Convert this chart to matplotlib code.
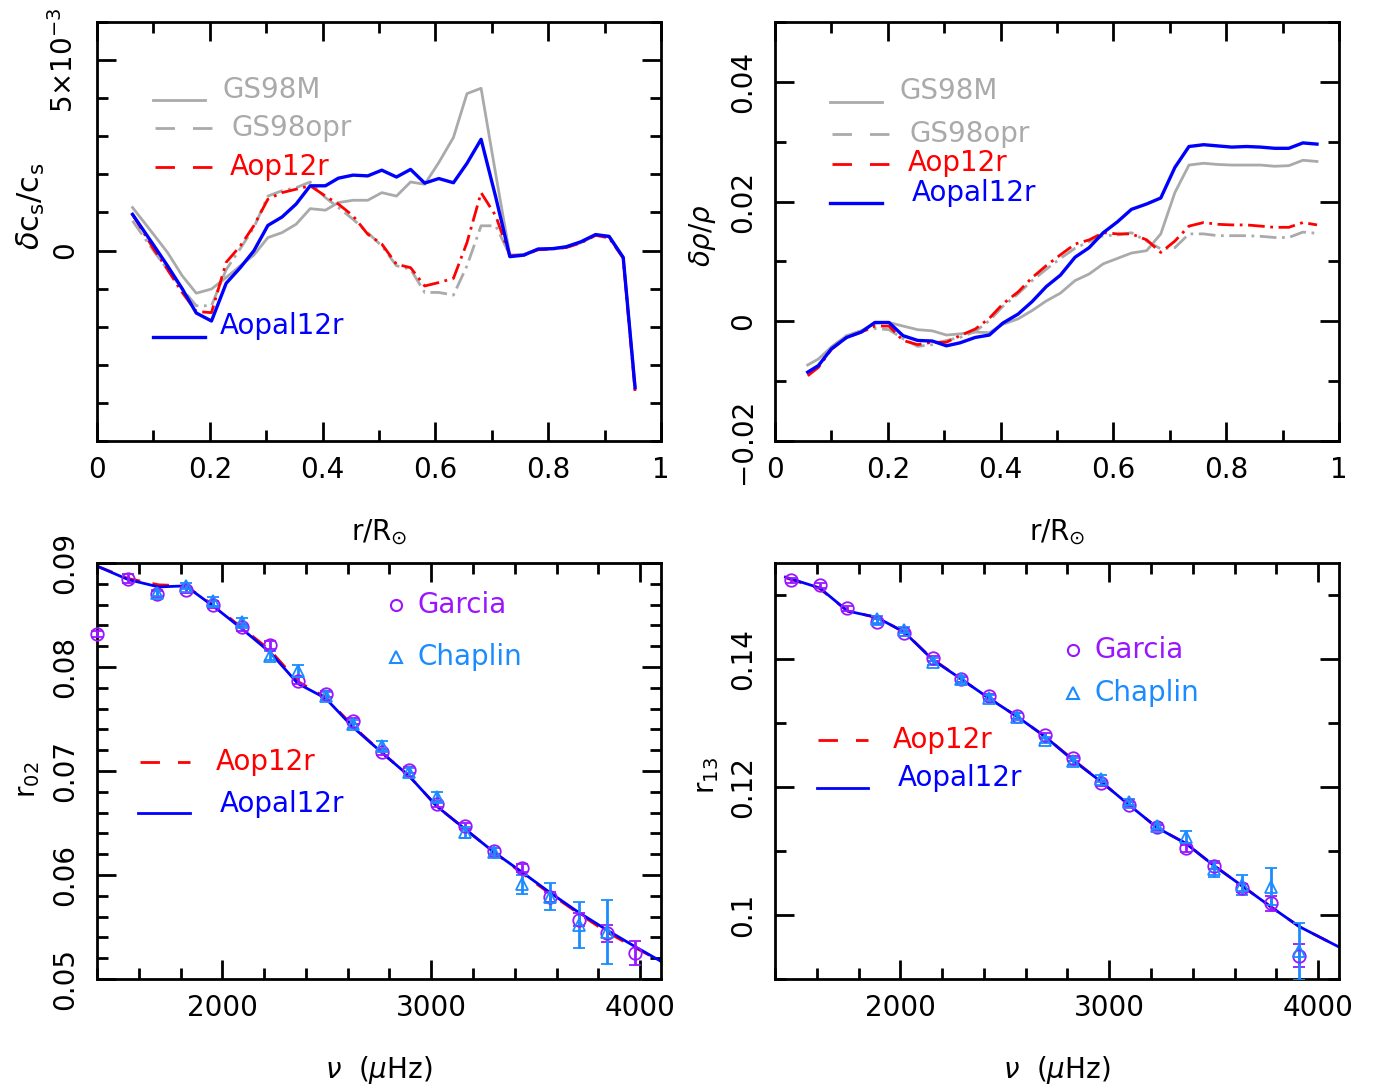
import numpy as np
import matplotlib
matplotlib.use("Agg")
import matplotlib.pyplot as plt
from matplotlib.ticker import MultipleLocator

# ---------------- data ----------------
# panel 1: sound-speed differences (units of 1e-3)
r_cs = [0.063, 0.100, 0.125, 0.151, 0.176, 0.203, 0.229, 0.254, 0.278, 0.303, 0.328, 0.353,
        0.378, 0.405, 0.428, 0.454, 0.480, 0.505, 0.531, 0.556, 0.581, 0.606, 0.632, 0.656,
        0.681, 0.707, 0.732, 0.757, 0.782, 0.808, 0.832, 0.858, 0.884, 0.908, 0.933, 0.954]
cs_gs98m = [1.13, 0.43, -0.05, -0.66, -1.12, -1.01, -0.71, -0.40, -0.12, 0.34, 0.47, 0.69,
            1.10, 1.06, 1.26, 1.32, 1.32, 1.52, 1.43, 1.80, 1.74, 2.31, 2.97, 4.12,
            4.26, 2.00, -0.12, -0.10, 0.03, 0.05, 0.08, 0.21, 0.40, 0.38, -0.18, -3.55]
cs_gs98opr = [0.78, 0.00, -0.50, -1.00, -1.45, -1.45, -0.50, 0.05, 0.60, 1.43, 1.57, 1.65,
              1.80, 1.39, 1.13, 0.82, 0.47, 0.12, -0.40, -0.49, -1.10, -1.10, -1.17, -0.40,
              0.65, 0.65, -0.12, -0.10, 0.03, 0.05, 0.08, 0.21, 0.40, 0.36, -0.20, -3.60]
cs_aop12r = [0.95, 0.05, -0.50, -1.10, -1.60, -1.63, -0.31, 0.12, 0.65, 1.35, 1.52, 1.61,
             1.70, 1.43, 1.22, 0.91, 0.43, 0.17, -0.36, -0.45, -0.93, -0.84, -0.73, 0.21,
             1.52, 0.91, -0.14, -0.12, 0.02, 0.04, 0.08, 0.20, 0.40, 0.33, -0.20, -3.70]
cs_aopal12r = [0.95, 0.15, -0.40, -1.00, -1.64, -1.85, -0.86, -0.45, -0.01, 0.66, 0.88, 1.22,
               1.70, 1.70, 1.90, 1.98, 1.96, 2.11, 1.93, 2.13, 1.77, 1.89, 1.78, 2.29,
               2.92, 1.40, -0.16, -0.12, 0.04, 0.05, 0.10, 0.23, 0.42, 0.37, -0.18, -3.60]

# panel 2: density differences
r_rho = [0.058, 0.077, 0.100, 0.127, 0.153, 0.177, 0.202, 0.227, 0.253, 0.279, 0.304, 0.328,
         0.355, 0.380, 0.404, 0.431, 0.456, 0.481, 0.506, 0.532, 0.557, 0.582, 0.607, 0.632,
         0.659, 0.684, 0.709, 0.734, 0.760, 0.785, 0.810, 0.836, 0.861, 0.886, 0.911, 0.936, 0.961]
rho_gs98m = [-0.0073, -0.0063, -0.0043, -0.0024, -0.0016, -0.0003, -0.0002, -0.0008, -0.0014,
             -0.0016, -0.0023, -0.0021, -0.0018, -0.0019, -0.0005, 0.0004, 0.0018, 0.0034,
             0.0047, 0.0068, 0.0079, 0.0096, 0.0105, 0.0114, 0.0118, 0.0146, 0.0215, 0.0261,
             0.0264, 0.0262, 0.0261, 0.0261, 0.0261, 0.0259, 0.0260, 0.0269, 0.0267]
rho_gs98opr = [-0.0088, -0.0074, -0.0043, -0.0024, -0.0016, -0.0012, -0.0014, -0.0029, -0.0042,
               -0.0039, -0.0032, -0.0027, -0.0017, 0.0001, 0.0025, 0.0046, 0.0068, 0.0087,
               0.0105, 0.0122, 0.0133, 0.0143, 0.0144, 0.0148, 0.0134, 0.0121, 0.0123, 0.0146,
               0.0146, 0.0143, 0.0143, 0.0143, 0.0142, 0.0140, 0.0140, 0.0149, 0.0147]
rho_aop12r = [-0.0091, -0.0077, -0.0047, -0.0027, -0.0018, -0.0008, -0.0008, -0.0032, -0.0039,
              -0.0035, -0.0035, -0.0024, -0.0013, 0.0005, 0.0029, 0.0049, 0.0073, 0.0093,
              0.0111, 0.0129, 0.0136, 0.0148, 0.0146, 0.0146, 0.0136, 0.0115, 0.0134, 0.0159,
              0.0165, 0.0162, 0.0161, 0.0161, 0.0159, 0.0157, 0.0157, 0.0165, 0.0161]
rho_aopal12r = [-0.0085, -0.0074, -0.0046, -0.0027, -0.0018, -0.0002, -0.0002, -0.0024, -0.0032,
                -0.0033, -0.0041, -0.0036, -0.0027, -0.0023, -0.0003, 0.0012, 0.0033, 0.0058,
                0.0077, 0.0107, 0.0123, 0.0148, 0.0166, 0.0187, 0.0196, 0.0206, 0.0257, 0.0292,
                0.0295, 0.0293, 0.0291, 0.0292, 0.0291, 0.0289, 0.0289, 0.0298, 0.0296]

# panel 3: r02
nu02_garcia = [1400, 1550, 1686, 1824, 1956, 2092, 2229, 2362, 2494, 2626, 2762, 2895,
               3027, 3163, 3300, 3433, 3569, 3706, 3842, 3977]
r02_garcia = [0.0832, 0.0885, 0.0870, 0.0874, 0.0860, 0.0838, 0.0821, 0.0787, 0.0774, 0.0748,
              0.0718, 0.0701, 0.0668, 0.0647, 0.0623, 0.0607, 0.0579, 0.0557, 0.0544, 0.0525]
r02_garcia_err = [0.0003, 0.0004, 0.0003, 0.0003, 0.0003, 0.0003, 0.0004, 0.0003, 0.0003, 0.0003,
                  0.0003, 0.0003, 0.0003, 0.0003, 0.0003, 0.0004, 0.0005, 0.0006, 0.0008, 0.0012]
nu02_chaplin = [1686, 1824, 1956, 2092, 2229, 2362, 2494, 2626, 2762, 2895, 3027, 3163,
                3300, 3433, 3569, 3706, 3842]
r02_chaplin = [0.0871, 0.0878, 0.0863, 0.0843, 0.0811, 0.0796, 0.0772, 0.0745, 0.0724, 0.0699,
               0.0675, 0.0641, 0.0622, 0.0591, 0.0579, 0.0552, 0.0545]
r02_chaplin_err = [0.0003, 0.0003, 0.0004, 0.0004, 0.0004, 0.0006, 0.0004, 0.0004, 0.0005, 0.0004,
                   0.0005, 0.0005, 0.0004, 0.0009, 0.0013, 0.0022, 0.0031]
nu02_model = [1400, 1550, 1695, 1824, 1960, 2092, 2229, 2362, 2494, 2626, 2762, 2895,
              3027, 3163, 3300, 3433, 3569, 3706, 3842, 3977, 4100]
r02_aop12r = [0.0897, 0.0885, 0.0879, 0.0878, 0.0859, 0.0838, 0.0816, 0.0786, 0.0771, 0.0743,
              0.0718, 0.0695, 0.0666, 0.0644, 0.0622, 0.0602, 0.0582, 0.0563, 0.0545, 0.0530, 0.0517]
r02_aopal12r = [0.0897, 0.0884, 0.0877, 0.0878, 0.0858, 0.0837, 0.0814, 0.0784, 0.0770, 0.0742,
                0.0718, 0.0695, 0.0666, 0.0644, 0.0622, 0.0603, 0.0583, 0.0564, 0.0547, 0.0531, 0.0517]

# panel 4: r13
nu13_garcia = [1476, 1614, 1747, 1887, 2019, 2154, 2290, 2423, 2559, 2692, 2826, 2962,
               3095, 3231, 3366, 3502, 3638, 3773, 3909]
r13_garcia = [0.1523, 0.1515, 0.1479, 0.1458, 0.1440, 0.1401, 0.1368, 0.1342, 0.1311, 0.1281,
              0.1245, 0.1206, 0.1172, 0.1137, 0.1104, 0.1077, 0.1042, 0.1018, 0.0936]
r13_garcia_err = [0.0004, 0.0004, 0.0004, 0.0004, 0.0004, 0.0004, 0.0004, 0.0004, 0.0004, 0.0004,
                  0.0004, 0.0004, 0.0004, 0.0004, 0.0005, 0.0005, 0.0006, 0.0011, 0.0018]
nu13_chaplin = [1887, 2019, 2154, 2290, 2423, 2559, 2692, 2826, 2962, 3095, 3231, 3366,
                3502, 3638, 3773, 3909]
r13_chaplin = [0.1462, 0.1445, 0.1396, 0.1368, 0.1339, 0.1310, 0.1273, 0.1240, 0.1213, 0.1177,
               0.1139, 0.1122, 0.1072, 0.1047, 0.1044, 0.0943]
r13_chaplin_err = [0.0005, 0.0005, 0.0005, 0.0005, 0.0005, 0.0005, 0.0005, 0.0005, 0.0005, 0.0005,
                   0.0005, 0.0010, 0.0013, 0.0016, 0.0029, 0.0044]
nu13_model = [1450, 1614, 1747, 1887, 2019, 2154, 2290, 2423, 2559, 2692, 2826, 2962,
              3095, 3231, 3366, 3502, 3638, 3773, 3909, 4100]
r13_aop12r = [0.1527, 0.1510, 0.1475, 0.1465, 0.1442, 0.1400, 0.1369, 0.1339, 0.1310, 0.1279,
              0.1243, 0.1208, 0.1172, 0.1136, 0.1112, 0.1077, 0.1045, 0.1013, 0.0982, 0.0950]
r13_aopal12r = [0.1528, 0.1511, 0.1475, 0.1465, 0.1442, 0.1399, 0.1369, 0.1339, 0.1310, 0.1279,
                0.1242, 0.1208, 0.1172, 0.1136, 0.1112, 0.1077, 0.1045, 0.1013, 0.0982, 0.0950]

# ---------------- style ----------------
GRAY = "#aaaaaa"
RED = "#ff0000"
BLUE = "#0000ff"
PURPLE = "#9a16ff"
LBLUE = "#1a8cff"
FS = 20
DASHDOT = (0, (6, 2, 1, 2))
DASHED = (0, (6, 4.5))
LEGDASH = (0, (7, 6.5))

plt.rcParams["font.family"] = ["DejaVu Sans"]
plt.rcParams["mathtext.fontset"] = "dejavusans"

fig = plt.figure(figsize=(13.82, 10.89), dpi=100)
W, H = 1382.0, 1089.0


def make_axes(x0, x1, ytop, ybot):
    return fig.add_axes([x0 / W, 1 - ybot / H, (x1 - x0) / W, (ybot - ytop) / H])


ax1 = make_axes(97, 661, 22, 441)
ax2 = make_axes(775, 1339, 22, 441)
ax3 = make_axes(97, 661, 563, 979)
ax4 = make_axes(775, 1339, 563, 979)

for ax in (ax1, ax2, ax3, ax4):
    for s in ax.spines.values():
        s.set_linewidth(2.0)
    ax.tick_params(which="both", direction="in", top=True, right=True, width=2.0,
                   labelsize=FS)
    ax.tick_params(which="major", length=14)
    ax.tick_params(which="minor", length=8)
    ax.tick_params(axis="x", pad=11)
    ax.tick_params(axis="y", pad=13)


def legline(ax, x0, x1, y, color, ls, lw=2.0):
    ax.plot([x0, x1], [y, y], transform=ax.transAxes, color=color, ls=ls, lw=lw, clip_on=False)


def legtext(ax, x, y, s, color):
    ax.text(x, y, s, transform=ax.transAxes, color=color, fontsize=FS, ha="left", va="center")


# ---------------- panel 1 ----------------
scale = 1e-3
ax1.plot(r_cs, np.array(cs_gs98m) * scale, color=GRAY, lw=2.0)
ax1.plot(r_cs, np.array(cs_gs98opr) * scale, color=GRAY, lw=2.0, ls=DASHDOT)
ax1.plot(r_cs, np.array(cs_aop12r) * scale, color=RED, lw=2.0, ls=DASHDOT)
ax1.plot(r_cs, np.array(cs_aopal12r) * scale, color=BLUE, lw=2.4)
ax1.set_xlim(0, 1)
ax1.set_ylim(-5e-3, 6e-3)
ax1.set_xticks([0, 0.2, 0.4, 0.6, 0.8, 1.0])
ax1.set_xticklabels(["0", "0.2", "0.4", "0.6", "0.8", "1"])
ax1.xaxis.set_minor_locator(MultipleLocator(0.1))
ax1.set_yticks([0, 5e-3])
ax1.set_yticklabels(["0", r"5$\times$10$^{-3}$"], rotation=90, va="center")
ax1.yaxis.set_minor_locator(MultipleLocator(1e-3))
ax1.set_xlabel(r"r/R$_{\odot}$", fontsize=FS)
ax1.xaxis.set_label_coords(0.5, -0.183)
ax1.set_ylabel(r"$\delta$c$_{\rm s}$/c$_{\rm s}$", fontsize=22)
ax1.yaxis.set_label_coords(-0.088, 0.56)

legline(ax1, 0.099, 0.191, 0.814, GRAY, "-")
legtext(ax1, 0.222, 0.838, "GS98M", GRAY)
legline(ax1, 0.103, 0.206, 0.747, GRAY, LEGDASH)
legtext(ax1, 0.239, 0.747, "GS98opr", GRAY)
legline(ax1, 0.103, 0.206, 0.654, RED, LEGDASH)
legtext(ax1, 0.236, 0.654, "Aop12r", RED)
legline(ax1, 0.099, 0.191, 0.248, BLUE, "-", 2.4)
legtext(ax1, 0.218, 0.274, "Aopal12r", BLUE)

# ---------------- panel 2 ----------------
ax2.plot(r_rho, rho_gs98m, color=GRAY, lw=2.0)
ax2.plot(r_rho, rho_gs98opr, color=GRAY, lw=2.0, ls=DASHDOT)
ax2.plot(r_rho, rho_aop12r, color=RED, lw=2.0, ls=DASHDOT)
ax2.plot(r_rho, rho_aopal12r, color=BLUE, lw=2.4)
ax2.set_xlim(0, 1)
ax2.set_ylim(-0.02, 0.05)
ax2.set_xticks([0, 0.2, 0.4, 0.6, 0.8, 1.0])
ax2.set_xticklabels(["0", "0.2", "0.4", "0.6", "0.8", "1"])
ax2.xaxis.set_minor_locator(MultipleLocator(0.1))
ax2.set_yticks([-0.02, 0, 0.02, 0.04])
ax2.set_yticklabels(["\u22120.02", "0", "0.02", "0.04"], rotation=90, va="center")
ax2.yaxis.set_minor_locator(MultipleLocator(0.01))
ax2.set_xlabel(r"r/R$_{\odot}$", fontsize=FS)
ax2.xaxis.set_label_coords(0.5, -0.183)
ax2.set_ylabel(r"$\delta\rho/\rho$", fontsize=FS)
ax2.yaxis.set_label_coords(-0.101, 0.49)

legline(ax2, 0.098, 0.190, 0.809, GRAY, "-")
legtext(ax2, 0.220, 0.835, "GS98M", GRAY)
legline(ax2, 0.101, 0.202, 0.733, GRAY, LEGDASH)
legtext(ax2, 0.238, 0.733, "GS98opr", GRAY)
legline(ax2, 0.101, 0.202, 0.661, RED, LEGDASH)
legtext(ax2, 0.236, 0.663, "Aop12r", RED)
legline(ax2, 0.098, 0.190, 0.568, BLUE, "-", 2.4)
legtext(ax2, 0.243, 0.592, "Aopal12r", BLUE)

# ---------------- panel 3 ----------------
ax3.plot(nu02_model, r02_aop12r, color=RED, lw=2.0, ls=DASHED)
ax3.plot(nu02_model, r02_aopal12r, color=BLUE, lw=2.0)
ax3.errorbar(nu02_garcia, r02_garcia, yerr=r02_garcia_err, fmt="o", ms=9, mfc="none",
             mec=PURPLE, mew=1.3, ecolor=PURPLE, elinewidth=2, capsize=4, capthick=2,
             clip_on=False, zorder=3)
ax3.errorbar(nu02_chaplin, r02_chaplin, yerr=r02_chaplin_err, fmt="^", ms=9, mfc="none",
             mec=LBLUE, mew=1.3, ecolor=LBLUE, elinewidth=2, capsize=4, capthick=2, zorder=3)
ax3.set_xlim(1400, 4100)
ax3.set_ylim(0.05, 0.09)
ax3.set_xticks([2000, 3000, 4000])
ax3.xaxis.set_minor_locator(MultipleLocator(200))
ax3.set_yticks([0.05, 0.06, 0.07, 0.08, 0.09])
ax3.set_yticklabels(["0.05", "0.06", "0.07", "0.08", "0.09"], rotation=90, va="center")
ax3.yaxis.set_minor_locator(MultipleLocator(0.002))
ax3.set_xlabel(r"$\nu$  ($\mu$Hz)", fontsize=FS)
ax3.xaxis.set_label_coords(0.5, -0.18)
ax3.set_ylabel(r"r$_{02}$", fontsize=FS)
ax3.yaxis.set_label_coords(-0.098, 0.48)

ax3.plot([0.530], [0.899], transform=ax3.transAxes, marker="o", ms=8, mfc="none",
         mec=PURPLE, mew=1.5)
legtext(ax3, 0.569, 0.899, "Garcia", PURPLE)
ax3.plot([0.530], [0.774], transform=ax3.transAxes, marker="^", ms=8, mfc="none",
         mec=LBLUE, mew=1.5)
legtext(ax3, 0.569, 0.774, "Chaplin", LBLUE)
legline(ax3, 0.076, 0.165, 0.522, RED, LEGDASH)
legtext(ax3, 0.211, 0.522, "Aop12r", RED)
legline(ax3, 0.073, 0.165, 0.399, BLUE, "-")
legtext(ax3, 0.218, 0.421, "Aopal12r", BLUE)

# ---------------- panel 4 ----------------
ax4.plot(nu13_model, r13_aop12r, color=RED, lw=2.0, ls=DASHED)
ax4.plot(nu13_model, r13_aopal12r, color=BLUE, lw=2.0)
ax4.errorbar(nu13_garcia, r13_garcia, yerr=r13_garcia_err, fmt="o", ms=9, mfc="none",
             mec=PURPLE, mew=1.3, ecolor=PURPLE, elinewidth=2, capsize=4, capthick=2, zorder=3)
ax4.errorbar(nu13_chaplin, r13_chaplin, yerr=r13_chaplin_err, fmt="^", ms=9, mfc="none",
             mec=LBLUE, mew=1.3, ecolor=LBLUE, elinewidth=2, capsize=4, capthick=2, zorder=3)
ax4.set_xlim(1400, 4100)
ax4.set_ylim(0.09, 0.155)
ax4.set_xticks([2000, 3000, 4000])
ax4.xaxis.set_minor_locator(MultipleLocator(200))
ax4.set_yticks([0.10, 0.12, 0.14])
ax4.set_yticklabels(["0.1", "0.12", "0.14"], rotation=90, va="center")
ax4.yaxis.set_minor_locator(MultipleLocator(0.01))
ax4.set_xlabel(r"$\nu$  ($\mu$Hz)", fontsize=FS)
ax4.xaxis.set_label_coords(0.5, -0.18)
ax4.set_ylabel(r"r$_{13}$", fontsize=FS)
ax4.yaxis.set_label_coords(-0.095, 0.49)

ax4.plot([0.528], [0.791], transform=ax4.transAxes, marker="o", ms=8, mfc="none",
         mec=PURPLE, mew=1.5)
legtext(ax4, 0.567, 0.791, "Garcia", PURPLE)
ax4.plot([0.528], [0.688], transform=ax4.transAxes, marker="^", ms=8, mfc="none",
         mec=LBLUE, mew=1.5)
legtext(ax4, 0.567, 0.688, "Chaplin", LBLUE)
legline(ax4, 0.076, 0.165, 0.575, RED, LEGDASH)
legtext(ax4, 0.209, 0.575, "Aop12r", RED)
legline(ax4, 0.074, 0.165, 0.459, BLUE, "-")
legtext(ax4, 0.218, 0.483, "Aopal12r", BLUE)

fig.savefig("out.png", dpi=100)
